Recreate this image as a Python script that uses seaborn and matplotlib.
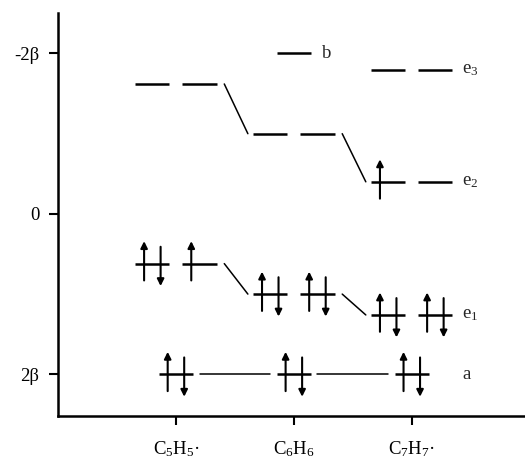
import matplotlib
matplotlib.use("Agg")
import matplotlib.pyplot as plt
import seaborn as sns

# ======================================================
# DATA (energies in units of beta, as on the axis)
# ======================================================
molecules = ["C5H5", "C6H6", "C7H7"]
mol_labels = [r"$\mathregular{C_5H_5}$·", r"$\mathregular{C_6H_6}$", r"$\mathregular{C_7H_7}$·"]

a_energy = [2.0, 2.0, 2.0]
e1_energy = [0.62, 1.0, 1.26]
e2_energy = [-1.62, -1.0, -0.40]
e3_energy = -1.80          # only C7H7
b_energy = -2.0            # only C6H6

# electrons in each level (left orbital, right orbital)
a_electrons = [2, 2, 2]
e1_electrons = [[2, 1], [2, 2], [2, 2]]
e2_electrons = [[0, 0], [0, 0], [1, 0]]
e3_electrons = [0, 0]

yticks = [-2, 0, 2]
ytick_labels = ["-2β", "0", "2β"]

# ======================================================
# STYLE
# ======================================================
sns.set_theme(style="white")
plt.rcParams["font.family"] = ["Liberation Serif", "DejaVu Serif"]
plt.rcParams["mathtext.fontset"] = "custom"
plt.rcParams["mathtext.rm"] = "Liberation Serif"

FS = 13.5
HALF = 0.145     # half length of a level line
SPLIT = 0.2      # offset of degenerate pair from centre
EX = 0.07        # arrow offset from level centre
LW = 1.8

fig = plt.figure(figsize=(5.25, 4.59), dpi=100)
ax = fig.add_axes([0.1105, 0.0937, 0.8895, 0.878])


def level(x, y):
    ax.plot([x - HALF, x + HALF], [y, y], color="black", lw=LW, solid_capstyle="butt")


def electron(x, y, up=True):
    if up:
        tail, tip = y + 0.21, y - 0.28
    else:
        tail, tip = y - 0.21, y + 0.28
    ax.annotate("", xy=(x, tip), xytext=(x, tail),
                arrowprops=dict(arrowstyle="-|>", color="black", lw=1.5,
                                mutation_scale=10, shrinkA=0, shrinkB=0))


def fill(x, y, n):
    if n >= 1:
        electron(x - EX, y, up=True)
    if n >= 2:
        electron(x + EX, y, up=False)


def connect(x0, y0, x1, y1):
    ax.plot([x0, x1], [y0, y1], color="black", lw=1.1)


for i, mol in enumerate(molecules):
    # non-degenerate a level
    level(i, a_energy[i])
    fill(i, a_energy[i], a_electrons[i])
    # degenerate e1 and e2 pairs
    for energies, elec in [(e1_energy, e1_electrons), (e2_energy, e2_electrons)]:
        for side, n in zip([-1, 1], elec[i]):
            level(i + side * SPLIT, energies[i])
            fill(i + side * SPLIT, energies[i], n)

# extra levels
level(1, b_energy)
for side, n in zip([-1, 1], e3_electrons):
    level(2 + side * SPLIT, e3_energy)
    fill(2 + side * SPLIT, e3_energy, n)

# correlation lines
for i in range(len(molecules) - 1):
    connect(i + 0.2, a_energy[i], i + 1 - 0.2, a_energy[i + 1])
    connect(i + 0.41, e1_energy[i], i + 1 - 0.39, e1_energy[i + 1])
    connect(i + 0.41, e2_energy[i], i + 1 - 0.39, e2_energy[i + 1])

# level labels
lx = 2.43
ax.text(1.24, b_energy, "b", fontsize=FS, va="center", ha="left")
ax.text(lx, e3_energy, r"$\mathregular{e_3}$", fontsize=FS, va="center", ha="left")
ax.text(lx, e2_energy[2], r"$\mathregular{e_2}$", fontsize=FS, va="center", ha="left")
ax.text(lx, e1_energy[2], r"$\mathregular{e_1}$", fontsize=FS, va="center", ha="left")
ax.text(lx, a_energy[2], "a", fontsize=FS, va="center", ha="left")

# axes
ax.set_xlim(-1.0, 2.96)
ax.set_ylim(2.52, -2.505)
ax.set_xticks(range(len(molecules)))
ax.set_xticklabels(mol_labels, fontsize=FS)
ax.set_yticks(yticks)
ax.set_yticklabels(ytick_labels, fontsize=FS)
ax.tick_params(axis="both", direction="out", length=6.5, width=1.5, color="black",
               labelcolor="black")
ax.tick_params(axis="x", pad=10)
ax.tick_params(axis="y", pad=7)
ax.xaxis.set_ticks_position("bottom")
ax.yaxis.set_ticks_position("left")
sns.despine(ax=ax)
for s in ["left", "bottom"]:
    ax.spines[s].set_color("black")
    ax.spines[s].set_linewidth(1.8)
ax.grid(False)

fig.savefig("out.png", dpi=100)
